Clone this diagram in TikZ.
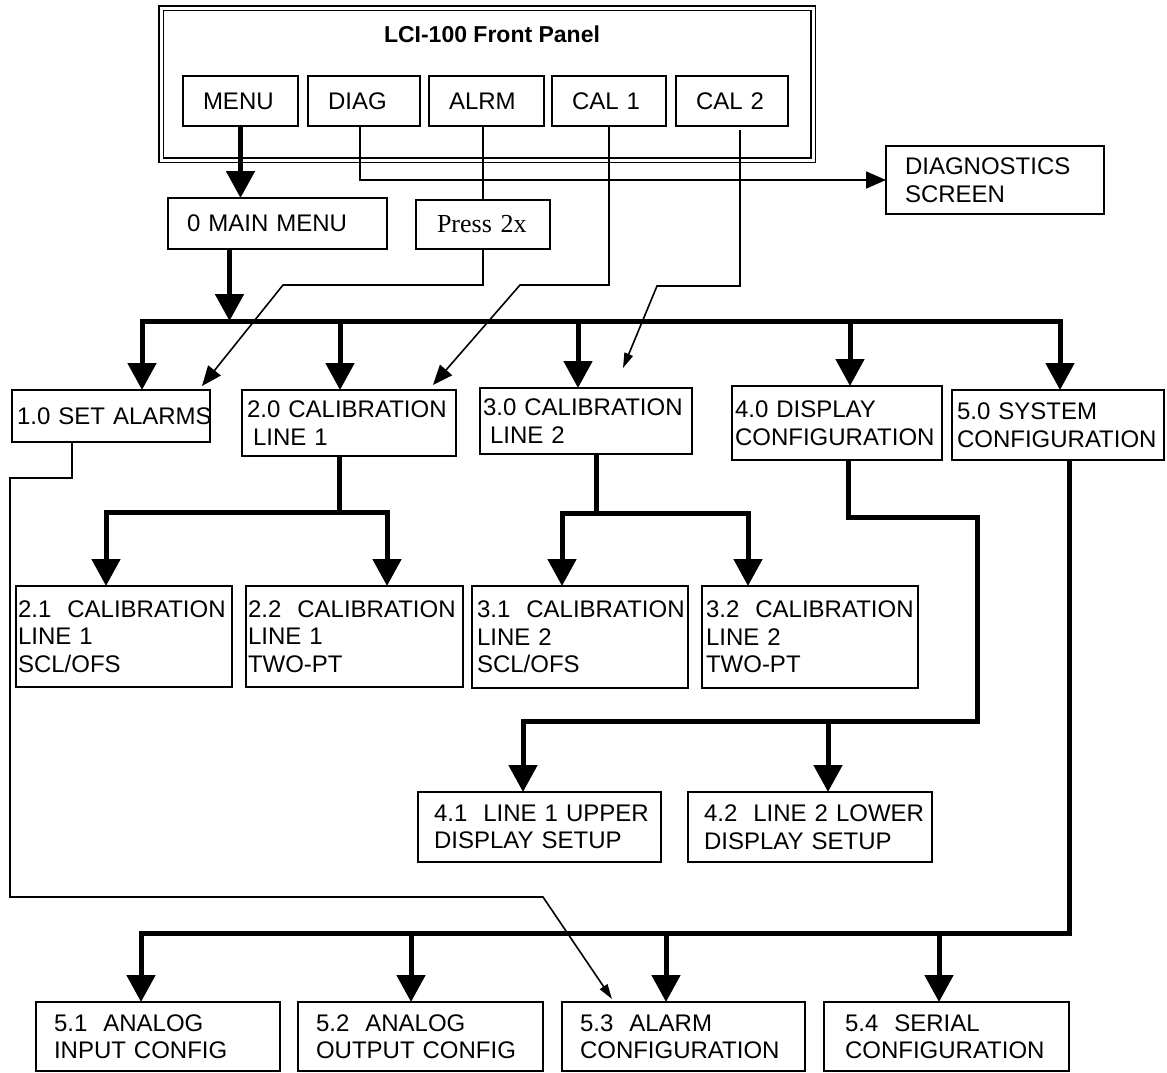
\documentclass[tikz,border=0pt]{standalone}
\usepackage{fontspec}
\setmainfont{Liberation Sans}
\newfontfamily\pressfont{Liberation Serif}
\usetikzlibrary{arrows.meta, calc}

\newcommand{\boxfont}{\fontsize{24}{27.5}\selectfont}

\tikzset{
  bighead/.tip={Triangle[length=27pt,width=28pt]},
  midhead/.tip={Triangle[length=20pt,width=17pt]},
  diaghead/.tip={Triangle[length=20pt,width=16pt]},
  smallhead/.tip={Triangle[length=15pt,width=9pt]},
  box/.style={draw, line width=2pt, anchor=north west, align=left, inner ysep=0pt, outer sep=0pt, font=\boxfont},
  key/.style={box, minimum height=50pt, inner xsep=20pt},
  panelframe/.style={draw, double, double distance=3pt, line width=1.5pt, anchor=north west, inner sep=0pt, outer sep=0pt},
  thinline/.style={line width=1.6pt},
  fat/.style={line width=5pt}
}

\begin{document}
\begin{tikzpicture}[x=1pt, y=-1pt]
    \useasboundingbox (0,0) rectangle (1167,1072);

    % Front panel
    \node[panelframe, minimum width=652pt, minimum height=152pt] (panel) at (161,8) {};
    \node[font=\bfseries\fontsize{23}{27}\selectfont, anchor=base] (title) at (492,42) {LCI-100 Front Panel};
    \node[key, text width=75pt] (menu) at (183,76) {MENU};
    \node[key, text width=72pt] (diag) at (308,76) {DIAG};
    \node[key, text width=75pt] (alrm) at (429,76) {ALRM};
    \node[key, text width=74pt] (calone) at (552,76) {\mbox{CAL 1}};
    \node[key, text width=72pt] (caltwo) at (676,76) {\mbox{CAL 2}};

    % Top level screens
    \node[box, text width=181pt, inner xsep=19pt, minimum height=51pt] (mainmenu) at (168,198) {\mbox{0 MAIN MENU}};
    \node[box, text width=92pt, inner xsep=21pt, minimum height=49pt, font=\pressfont\fontsize{26}{30}\selectfont] (press) at (416,200) {\mbox{Press 2x}};
    \node[box, text width=180pt, inner xsep=19pt, minimum height=68pt] (diagscr) at (886,146) {DIAGNOSTICS\\SCREEN};

    % Menu level 1
    \node[box, text width=188pt, inner xsep=5pt, minimum height=52pt] (setal) at (12,390) {\mbox{1.0 SET ALARMS}};
    \node[box, text width=204pt, inner xsep=5pt, minimum height=66pt] (calline1) at (242,390) {\mbox{2.0 CALIBRATION}\\\mbox{\hspace*{6pt}LINE 1}};
    \node[box, text width=206pt, inner xsep=3pt, minimum height=66pt] (calline2) at (480,388) {\mbox{3.0 CALIBRATION}\\\mbox{\hspace*{7pt}LINE 2}};
    \node[box, text width=204pt, inner xsep=3pt, minimum height=74pt] (dispcfg) at (732,386) {\mbox{4.0 DISPLAY}\\CONFIGURATION};
    \node[box, text width=202pt, inner xsep=5pt, minimum height=70pt] (syscfg) at (952,390) {\mbox{5.0 SYSTEM}\\CONFIGURATION};

    % Menu level 2
    \node[box, text width=212pt, inner xsep=2pt, minimum height=101pt] (cal21) at (16,586) {\mbox{2.1~ CALIBRATION}\\\mbox{LINE 1}\\SCL/OFS};
    \node[box, text width=213pt, inner xsep=2pt, minimum height=101pt] (cal22) at (246,586) {\mbox{2.2~ CALIBRATION}\\\mbox{LINE 1}\\TWO-PT};
    \node[box, text width=206pt, inner xsep=5pt, minimum height=102pt] (cal31) at (472,586) {\mbox{3.1~ CALIBRATION}\\\mbox{LINE 2}\\SCL/OFS};
    \node[box, text width=208pt, inner xsep=4pt, minimum height=102pt] (cal32) at (702,586) {\mbox{3.2~ CALIBRATION}\\\mbox{LINE 2}\\TWO-PT};
    \node[box, text width=211pt, inner xsep=16pt, minimum height=70pt] (upper41) at (418,792) {\mbox{4.1~ LINE 1 UPPER}\\\mbox{DISPLAY SETUP}};
    \node[box, text width=212pt, inner xsep=16pt, minimum height=70pt] (lower42) at (688,792) {\mbox{4.2~ LINE 2 LOWER}\\\mbox{DISPLAY SETUP}};
    \node[box, text width=208pt, inner xsep=18pt, minimum height=69pt] (anin) at (36,1002) {\mbox{5.1~ ANALOG}\\\mbox{INPUT CONFIG}};
    \node[box, text width=209pt, inner xsep=18pt, minimum height=69pt] (anout) at (298,1002) {\mbox{5.2~ ANALOG}\\\mbox{OUTPUT CONFIG}};
    \node[box, text width=207pt, inner xsep=18pt, minimum height=69pt] (alcfg) at (562,1002) {\mbox{5.3~ ALARM}\\CONFIGURATION};
    \node[box, text width=203pt, inner xsep=21pt, minimum height=69pt] (sercfg) at (824,1002) {\mbox{5.4~ SERIAL}\\CONFIGURATION};

    % Main bus
    \coordinate (busA) at (142,321);
    \coordinate (busB) at (340,321);
    \coordinate (busC) at (578,321);
    \coordinate (busD) at (850,321);
    \coordinate (busE) at (1060,321);
    \coordinate (mmout) at ([xshift=-48pt]mainmenu.south);
    \draw[fat, -bighead] (menu.south) -- (menu.south |- mainmenu.north);
    \draw[fat, -bighead] (mmout) -- (mmout |- busA);
    \draw[fat, bighead-bighead] (setal.north -| busA) -- (busA) -- (busE) -- (busE |- syscfg.north);
    \foreach \b/\n in {busB/calline1, busC/calline2, busD/dispcfg}
        \draw[fat, -bighead] (\b) -- (\b |- \n.north);

    % Key shortcuts
    \draw[thinline, -midhead] ([xshift=-4pt]diag.south) |- (diagscr.west);
    \draw[thinline] (press.north |- alrm.south) -- (press.north);
    \coordinate (pressbend) at (283,285);
    \draw[thinline, -diaghead] (press.south) |- (pressbend) -- ($(setal.north east)+(-8,-4)$);
    \coordinate (onebend) at (520,285);
    \draw[thinline, -diaghead] (calone.south) |- (onebend) -- ($(calline1.north east)+(-23,-5)$);
    \coordinate (twotop) at ([shift={(8pt,-4pt)}]caltwo.south);
    \coordinate (twobend) at (657,286);
    \draw[thinline, -smallhead] (twotop) |- (twobend) -- ($(calline2.north)+(37,-20)$);

    % Calibration branches
    \coordinate (l1stem) at ([xshift=-10pt]calline1.south);
    \coordinate (l1L) at (106,512);
    \coordinate (l1R) at (387,512);
    \draw[fat] (l1stem) -- (l1stem |- l1L);
    \draw[fat, bighead-bighead] (l1L |- cal21.north) -- (l1L) -- (l1R) -- (l1R |- cal22.north);
    \coordinate (l2stem) at ([xshift=10pt]calline2.south);
    \coordinate (l2L) at (562,513);
    \coordinate (l2R) at (748,513);
    \draw[fat] (l2stem) -- (l2stem |- l2L);
    \draw[fat, bighead-bighead] (l2L |- cal31.north) -- (l2L) -- (l2R) -- (l2R |- cal32.north);

    % Display branch
    \coordinate (dstem) at ([xshift=11pt]dispcfg.south);
    \coordinate (dturn) at (977,517);
    \coordinate (dL) at (523,721);
    \coordinate (dR) at (828,721);
    \draw[fat, -bighead] (dstem) |- (dturn) |- (dL) -- (dL |- upper41.north);
    \draw[fat, -bighead] (dR) -- (dR |- lower42.north);

    % System branch
    \coordinate (sstem) at ([xshift=11pt]syscfg.south);
    \coordinate (sA) at (141,933);
    \coordinate (sB) at (411,933);
    \coordinate (sC) at (666,933);
    \coordinate (sD) at (939,933);
    \draw[fat, -bighead] (sstem) |- (sA) -- (sA |- anin.north);
    \foreach \b/\n in {sB/anout, sC/alcfg, sD/sercfg}
        \draw[fat, -bighead] (\b) -- (\b |- \n.north);

    % Alarm link
    \coordinate (alstem) at ([xshift=-39pt]setal.south);
    \coordinate (alleft) at (10,478);
    \coordinate (alfoot) at (543,897);
    \draw[thinline, -smallhead] (alstem) |- (alleft) |- (alfoot) -- ($(alcfg.north west)+(50,-3)$);
\end{tikzpicture}
\end{document}
